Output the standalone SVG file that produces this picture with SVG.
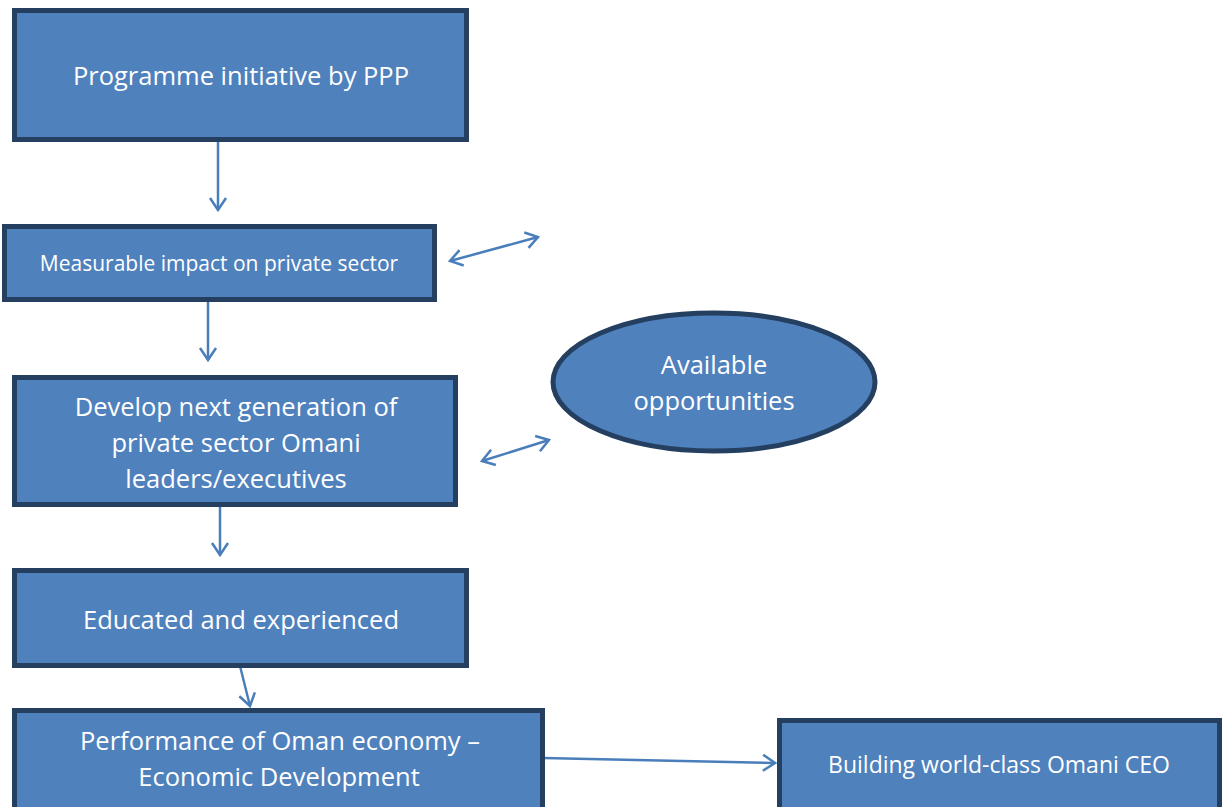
<svg xmlns="http://www.w3.org/2000/svg" width="1223" height="807" viewBox="0 0 1223 807">
<style>
.box{fill:#4F81BD;stroke:#243F60;stroke-width:5}
.t{font-family:"Open Sans","Liberation Sans",sans-serif;fill:#FFFFFF;text-anchor:middle}
.c{stroke:#4A7EBB;stroke-width:2.5;fill:none}
</style>
<defs>
<marker id="ah" viewBox="0 0 20 20" refX="18" refY="10" markerWidth="20" markerHeight="20" markerUnits="userSpaceOnUse" orient="auto-start-reverse">
<path d="M6,2 L18,10 L6,18" fill="none" stroke="#4A7EBB" stroke-width="2.5"/>
</marker>
</defs>
<rect width="1223" height="807" fill="#FFFFFF"/>
<g id="connectors">
<line class="c" x1="218" y1="142" x2="218" y2="210" marker-end="url(#ah)"/>
<line class="c" x1="208" y1="301" x2="208" y2="360" marker-end="url(#ah)"/>
<line class="c" x1="220" y1="506" x2="220" y2="555" marker-end="url(#ah)"/>
<line class="c" x1="240" y1="666" x2="250" y2="706" marker-end="url(#ah)"/>
<line class="c" x1="450" y1="261" x2="538" y2="237" marker-start="url(#ah)" marker-end="url(#ah)"/>
<line class="c" x1="482" y1="461" x2="549" y2="440" marker-start="url(#ah)" marker-end="url(#ah)"/>
<line class="c" x1="543" y1="758" x2="775" y2="763" marker-end="url(#ah)"/>
</g>
<g id="n1"><rect class="box" x="14.5" y="10.5" width="452" height="129"/><text class="t" x="241" y="85" font-size="25.5">Programme initiative by PPP</text></g>
<g id="n2"><rect class="box" x="4.5" y="226.5" width="430" height="73"/><text class="t" x="219" y="271" font-size="21">Measurable impact on private sector</text></g>
<g id="n3"><rect class="box" x="14.5" y="377.5" width="441" height="127"/><text class="t" x="236" y="416" font-size="25.5">Develop next generation of</text><text class="t" x="236" y="452" font-size="25.5">private sector Omani</text><text class="t" x="236" y="488" font-size="25.5">leaders/executives</text></g>
<g id="n4"><rect class="box" x="14.5" y="570.5" width="452" height="95"/><text class="t" x="241" y="629" font-size="25.5">Educated and experienced</text></g>
<g id="n5"><rect class="box" x="14.5" y="710.5" width="528" height="100"/><text class="t" x="280" y="750" font-size="25.5">Performance of Oman economy –</text><text class="t" x="279" y="786" font-size="25.5">Economic Development</text></g>
<g id="n6"><rect class="box" x="779.5" y="720.5" width="440" height="90"/><text class="t" x="999" y="773" font-size="23">Building world-class Omani CEO</text></g>
<g id="n7"><ellipse class="box" cx="714" cy="382" rx="161" ry="69"/><text class="t" x="714" y="374" font-size="25.5">Available</text><text class="t" x="714" y="410" font-size="25.5">opportunities</text></g>
</svg>
